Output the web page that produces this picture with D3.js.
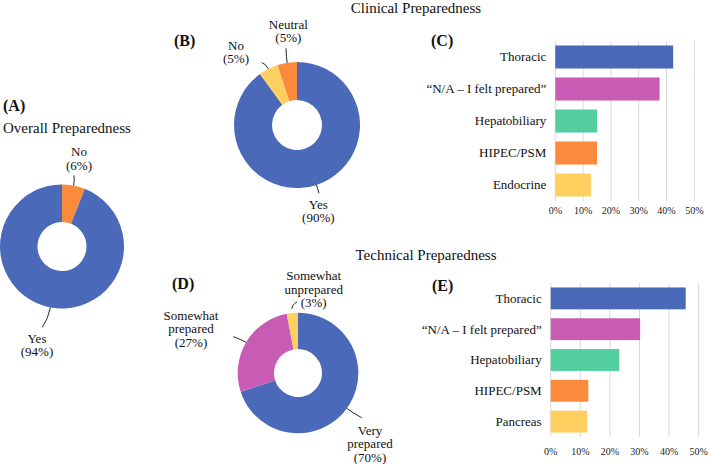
<!DOCTYPE html>
<html><head><meta charset="utf-8">
<script src="https://cdn.jsdelivr.net/npm/d3@7"></script>
<style>
html,body{margin:0;padding:0;background:#fff;}
svg{display:block;font-family:"Liberation Serif","Times New Roman",serif;}
</style></head><body>
<svg id="c" width="708" height="464"></svg>
<script>
// ---- data ----
const overallLabels = ["No", "Yes"];
const overallValues = [6, 94];
const clinicalDonutLabels = ["Yes", "No", "Neutral"];
const clinicalDonutValues = [90, 5, 5];
const technicalDonutLabels = ["Very prepared", "Somewhat prepared", "Somewhat unprepared"];
const technicalDonutValues = [70, 27, 3];
const clinicalBarCats = ["Thoracic", "\u201CN/A \u2013 I felt prepared\u201D", "Hepatobiliary", "HIPEC/PSM", "Endocrine"];
const clinicalBarValues = [42.4, 37.5, 15.0, 15.0, 12.8];
const technicalBarCats = ["Thoracic", "\u201CN/A \u2013 I felt prepared\u201D", "Hepatobiliary", "HIPEC/PSM", "Pancreas"];
const technicalBarValues = [45.6, 30.2, 23.2, 12.7, 12.3];
const xTicks = [0, 10, 20, 30, 40, 50];

// ---- colours ----
const BLUE = "#4A69B8", PINK = "#C85CB4", GREEN = "#53CF9F", ORANGE = "#FC8A3D", YELLOW = "#FFCF5F";
const barColors = [BLUE, PINK, GREEN, ORANGE, YELLOW];

const svg = d3.select("#c");

function text(x, y, s, opts = {}) {
  return svg.append("text").attr("x", x).attr("y", y)
    .attr("text-anchor", opts.anchor || "start")
    .attr("font-size", opts.size || 13)
    .attr("font-weight", opts.weight || "normal")
    .attr("fill", "#111").text(s);
}

// headers
text(3, 111, "(A)", {size: 16, weight: "bold"});
text(3, 133, "Overall Preparedness", {size: 15});
text(416, 12.5, "Clinical Preparedness", {size: 15, anchor: "middle"});
text(426, 260, "Technical Preparedness", {size: 15, anchor: "middle"});
text(174, 46, "(B)", {size: 16, weight: "bold"});
text(172, 289, "(D)", {size: 16, weight: "bold"});
text(431, 46, "(C)", {size: 16, weight: "bold"});
text(432, 291, "(E)", {size: 16, weight: "bold"});

// ---- donuts ----
function donut(cfg) {
  const pie = d3.pie().sort(null).value(d => d)(cfg.values);
  const arc = d3.arc().innerRadius(cfg.ri).outerRadius(cfg.ro);
  const g = svg.append("g").attr("transform", `translate(${cfg.cx},${cfg.cy})`);
  g.selectAll("path").data(pie).join("path")
    .attr("d", arc).attr("fill", (d, i) => cfg.colors[i]);
  pie.forEach((p, i) => {
    const lab = cfg.labels[i];
    const mid = (p.startAngle + p.endAngle) / 2;
    const pol = r => [cfg.cx + r * Math.sin(mid), cfg.cy - r * Math.cos(mid)];
    const s = pol(cfg.ro + (lab.gap || 0));
    const c = pol(cfg.ro + (lab.ctrl || 8));
    svg.append("path")
      .attr("d", `M${s[0]},${s[1]} Q${c[0]},${c[1]} ${lab.end[0]},${lab.end[1]}`)
      .attr("fill", "none").attr("stroke", "#111").attr("stroke-width", 0.9);
    lab.lines.forEach((ln, k) => text(lab.x, lab.y + 4.5 + k * 13.6, ln, {anchor: "middle"}));
  });
}

donut({cx: 62, cy: 246.5, ro: 62, ri: 24.5, values: overallValues, colors: [ORANGE, BLUE],
  labels: [
    {lines: [overallLabels[0], "(6%)"], x: 79, y: 151.7, end: [74, 175.5], ctrl: 5},
    {lines: [overallLabels[1], "(94%)"], x: 37, y: 338.3, end: [42.3, 327.3], ctrl: 12}
  ]});

donut({cx: 297, cy: 125, ro: 63, ri: 25, values: clinicalDonutValues, colors: [BLUE, YELLOW, ORANGE],
  labels: [
    {lines: [clinicalDonutLabels[0], "(90%)"], x: 318.3, y: 204, end: [319, 193.3], ctrl: 4},
    {lines: [clinicalDonutLabels[1], "(5%)"], x: 236, y: 45, end: [261.7, 62.7], ctrl: 6},
    {lines: [clinicalDonutLabels[2], "(5%)"], x: 288.3, y: 24.3, end: [286, 48.3], ctrl: 6}
  ]});

donut({cx: 298, cy: 373, ro: 60.3, ri: 24, values: technicalDonutValues, colors: [BLUE, PINK, YELLOW],
  labels: [
    {lines: ["Very", "prepared", "(70%)"], x: 370, y: 430, end: [361.7, 417.7], ctrl: 8},
    {lines: ["Somewhat", "prepared", "(27%)"], x: 191, y: 315, end: [233.3, 336.7], ctrl: 6},
    {lines: ["Somewhat", "unprepared", "(3%)"], x: 313.7, y: 275.7, end: [297.3, 301.7], gap: 4, ctrl: 8}
  ]});

// ---- bar charts ----
function bars(cfg) {
  const x = d3.scaleLinear().domain([0, 50]).range([cfg.x0, cfg.x1]);
  const y = d3.scaleBand().domain(cfg.cats).range([cfg.y0, cfg.y1]).paddingInner(cfg.pad).paddingOuter(cfg.pad / 2);
  const g = svg.append("g");
  g.selectAll("line.grid").data(xTicks).join("line").attr("class", "grid")
    .attr("x1", d => x(d)).attr("x2", d => x(d)).attr("y1", cfg.y0).attr("y2", cfg.y1)
    .attr("stroke", "#d9d9d9").attr("stroke-width", 1);
  g.selectAll("rect").data(cfg.values).join("rect")
    .attr("x", x(0)).attr("y", (d, i) => y(cfg.cats[i]))
    .attr("width", d => x(d) - x(0)).attr("height", y.bandwidth())
    .attr("fill", (d, i) => barColors[i]);
  g.selectAll("text.cat").data(cfg.cats).join("text").attr("class", "cat")
    .attr("x", x(0) - 9).attr("y", d => y(d) + y.bandwidth() / 2 + 4.3)
    .attr("text-anchor", "end").attr("font-size", 13).attr("fill", "#111").text(d => d);
  g.selectAll("text.tick").data(xTicks).join("text").attr("class", "tick")
    .attr("x", d => x(d)).attr("y", cfg.tickY)
    .attr("text-anchor", "middle").attr("font-size", 10).attr("fill", "#222").text(d => d + "%");
}

bars({cats: clinicalBarCats, values: clinicalBarValues, x0: 555.3, x1: 694.3, y0: 41, y1: 201, pad: 0.28, tickY: 214.3});
bars({cats: technicalBarCats, values: technicalBarValues, x0: 550.7, x1: 698.7, y0: 283, y1: 437, pad: 0.29, tickY: 455.3});
</script>
</body></html>
